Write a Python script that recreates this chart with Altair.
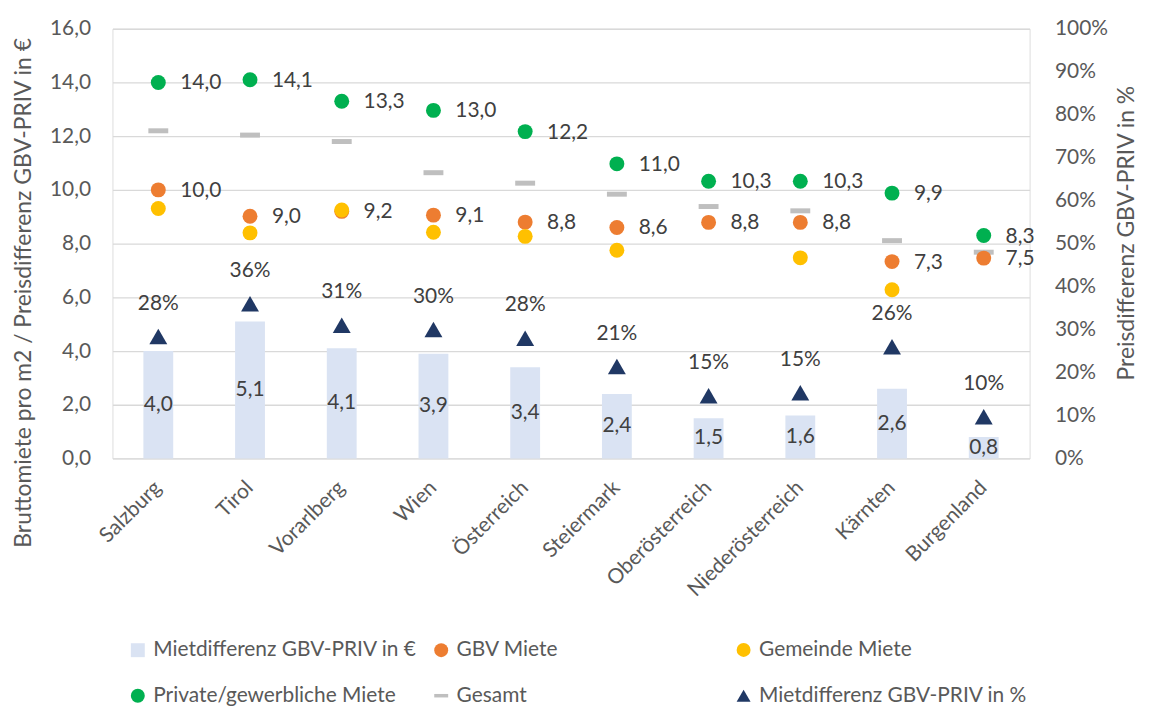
import altair as alt
import pandas as pd

regions = ["Salzburg", "Tirol", "Vorarlberg", "Wien", "Österreich", "Steiermark",
           "Oberösterreich", "Niederösterreich", "Kärnten", "Burgenland"]
diff_eur = [4.0, 5.1, 4.1, 3.9, 3.4, 2.4, 1.5, 1.6, 2.6, 0.8]
gbv_miete = [10.0, 9.02, 9.2, 9.06, 8.8, 8.6, 8.79, 8.79, 7.33, 7.46]
gemeinde_miete = [9.31, 8.40, 9.25, 8.42, 8.27, 7.75, None, 7.47, 6.28, None]
privat_miete = [14.0, 14.1, 13.3, 12.96, 12.17, 10.97, 10.32, 10.32, 9.88, 8.3]
gesamt_miete = [12.2, 12.04, 11.8, 10.64, 10.25, 9.84, 9.38, 9.22, 8.11, 7.68]
diff_pct = [0.284, 0.36, 0.31, 0.30, 0.28, 0.214, 0.146, 0.153, 0.26, 0.097]

S_BAR = "Mietdifferenz GBV-PRIV in €"
S_GBV = "GBV Miete"
S_GEM = "Gemeinde Miete"
S_PRIV = "Private/gewerbliche Miete"
S_GES = "Gesamt"
S_PCT = "Mietdifferenz GBV-PRIV in %"

FONT = "Lato"
FS = 21
TFS = 23
LABEL_COL = "#404040"
AXIS_COL = "#595959"
DASH = "M-1,-0.25L1,-0.25L1,0.25L-1,0.25Z"

bars_df = pd.DataFrame({"region": regions, "value": diff_eur, "series": S_BAR})
dots_df = pd.concat([
    pd.DataFrame({"region": regions, "value": gbv_miete, "series": S_GBV}),
    pd.DataFrame({"region": regions, "value": privat_miete, "series": S_PRIV}),
])
ges_df = pd.DataFrame({"region": regions, "value": gesamt_miete, "series": S_GES})
gem_df = pd.DataFrame({"region": regions, "value": gemeinde_miete, "series": S_GEM}).dropna()
pct_df = pd.DataFrame({"region": regions, "value": diff_pct, "series": S_PCT})

X = alt.X("region:N", sort=regions,
          scale=alt.Scale(type="band", paddingInner=0, paddingOuter=0),
          axis=alt.Axis(title=None, labelAngle=315, labelAlign="right", labelBaseline="middle",
                        labelPadding=26, ticks=False, domain=False, grid=False,
                        labelFont=FONT, labelFontSize=FS, labelColor=AXIS_COL))

Y_LEFT = alt.Y("value:Q",
               scale=alt.Scale(domain=[0, 16], nice=False, zero=True),
               axis=alt.Axis(title="Bruttomiete pro m2 / Preisdifferenz GBV-PRIV in €",
                             values=[0, 2, 4, 6, 8, 10, 12, 14, 16],
                             labelExpr="replace(format(datum.value, '.1f'), '.', ',')",
                             ticks=False, domain=False, grid=True, gridColor="#D9D9D9",
                             gridWidth=1.3, labelPadding=22, labelFont=FONT, labelFontSize=FS,
                             labelColor=AXIS_COL, titleFont=FONT, titleFontSize=TFS,
                             titleColor=AXIS_COL, titleFontWeight="normal", titleAngle=270,
                             titleBaseline="middle", titleX=-89, titleY=265))

# column-major legend grid: column 1 = BAR, PRIV ; column 2 = GBV, GES
A_dom = [S_BAR, S_PRIV, S_GBV, S_GES]
A_col = ["#DAE3F3", "#00B050", "#ED7D31", "#BFBFBF"]
A_shp = ["square", "circle", "circle", DASH]
legA = alt.Legend(title=None, orient="none", legendX=15, legendY=614, columns=2,
                  columnPadding=14, rowPadding=24, labelFont=FONT, labelFontSize=FS,
                  labelColor=AXIS_COL, labelLimit=500, symbolSize=196, symbolStrokeWidth=0,
                  labelOffset=5)
colA = alt.Color("series:N", scale=alt.Scale(domain=A_dom, range=A_col), legend=legA)
shpA = alt.Shape("series:N", scale=alt.Scale(domain=A_dom, range=A_shp), legend=legA)

B_dom = [S_GEM, S_PCT]
B_col = ["#FFC000", "#203864"]
B_shp = ["circle", "triangle-up"]
legB = alt.Legend(title=None, orient="none", legendX=624, legendY=614, columns=1,
                  rowPadding=24, labelFont=FONT, labelFontSize=FS, labelColor=AXIS_COL,
                  labelLimit=500, symbolSize=196, symbolStrokeWidth=0, labelOffset=5)
colB = alt.Color("series:N", scale=alt.Scale(domain=B_dom, range=B_col), legend=legB)
shpB = alt.Shape("series:N", scale=alt.Scale(domain=B_dom, range=B_shp), legend=legB)

label_expr = "replace(format(datum.value, '.1f'), '.', ',')"

bars = alt.Chart(bars_df).mark_bar(size=30).encode(x=X, y=Y_LEFT, color=colA)
bar_text = alt.Chart(bars_df).transform_calculate(
    mid="datum.value / 2", lab=label_expr
).mark_text(font=FONT, fontSize=FS, color=LABEL_COL, baseline="middle").encode(
    x=X, y=alt.Y("mid:Q"), text="lab:N")

dots = alt.Chart(dots_df).mark_point(filled=True, opacity=1, size=225, strokeWidth=0).encode(
    x=X, y=Y_LEFT, color=colA, shape=shpA)
dot_text = alt.Chart(dots_df).transform_calculate(lab=label_expr).mark_text(
    font=FONT, fontSize=FS, color=LABEL_COL, align="left", baseline="middle", dx=22, dy=1
).encode(x=X, y=alt.Y("value:Q"), text="lab:N")

ges = alt.Chart(ges_df).mark_point(filled=True, opacity=1, size=400, strokeWidth=0).encode(
    x=X, y=Y_LEFT, color=colA, shape=shpA)

groupA = alt.layer(bars, bar_text, ges, dots, dot_text)

gem = alt.Chart(gem_df).mark_point(filled=True, opacity=1, size=225, strokeWidth=0).encode(
    x=X, y=alt.Y("value:Q", scale=alt.Scale(domain=[0, 16], nice=False), axis=None),
    color=colB, shape=shpB)

Y_RIGHT = alt.Y("value:Q", scale=alt.Scale(domain=[0, 1], nice=False),
                axis=alt.Axis(orient="right", title="Preisdifferenz GBV-PRIV in %",
                              values=[0, 0.1, 0.2, 0.3, 0.4, 0.5, 0.6, 0.7, 0.8, 0.9, 1.0],
                              format=".0%", ticks=False, domain=False, grid=False,
                              labelPadding=25, labelFont=FONT, labelFontSize=FS,
                              labelColor=AXIS_COL, titleFont=FONT, titleFontSize=TFS,
                              titleColor=AXIS_COL, titleFontWeight="normal", titleAngle=270,
                              titleBaseline="middle", titleX=97, titleY=205))
tri = alt.Chart(pct_df).mark_point(filled=True, opacity=1, size=324, strokeWidth=0).encode(
    x=X, y=Y_RIGHT, color=colB, shape=shpB)
tri_text = alt.Chart(pct_df).mark_text(
    font=FONT, fontSize=FS, color=LABEL_COL, baseline="middle", dy=-33
).encode(x=X, y=alt.Y("value:Q", scale=alt.Scale(domain=[0, 1], nice=False), axis=None),
         text=alt.Text("value:Q", format=".0%"))

groupB = alt.layer(gem, tri, tri_text).resolve_scale(y="independent")

chart = alt.layer(groupA, groupB).resolve_scale(
    y="independent", color="independent", shape="independent"
).properties(
    width=922, height=432,
    autosize=alt.AutoSizeParams(type="none"),
    padding={"left": 105, "top": 19, "right": 112, "bottom": 248},
).configure_view(stroke=None).configure(background="white")

chart.save("out.html", embed_options={"renderer": "svg", "actions": False})
